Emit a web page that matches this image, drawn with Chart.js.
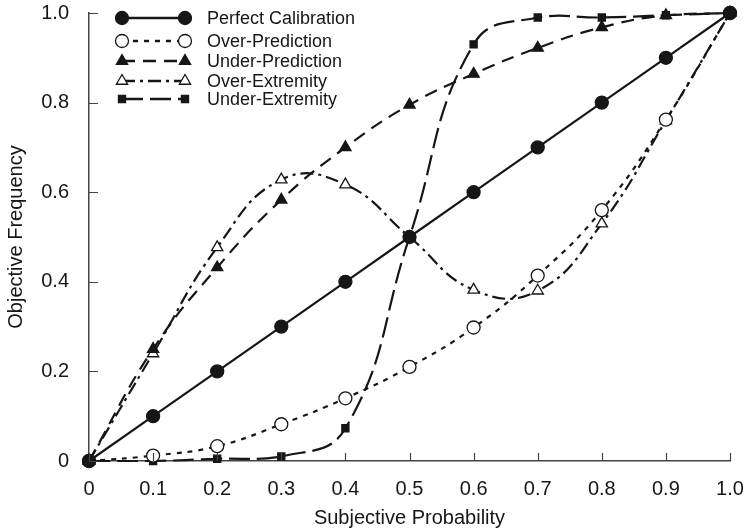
<!DOCTYPE html>
<html>
<head>
<meta charset="utf-8">
<script src="https://cdn.jsdelivr.net/npm/chart.js@4"></script>
<style>
html,body{margin:0;padding:0;background:#fff;}
#wrap{width:747px;height:531px;position:relative;}
</style>
</head>
<body>
<div id="wrap"><canvas id="c" width="747" height="531"></canvas></div>
<script>
const probabilities = [0, 0.1, 0.2, 0.3, 0.4, 0.5, 0.6, 0.7, 0.8, 0.9, 1.0];
const seriesNames = ["Perfect Calibration", "Over-Prediction", "Under-Prediction", "Over-Extremity", "Under-Extremity"];
const perfectCalibration = [0, 0.1, 0.2, 0.3, 0.4, 0.5, 0.6, 0.7, 0.8, 0.9, 1.0];
const overPrediction = [0, 0.012, 0.033, 0.082, 0.14, 0.21, 0.298, 0.414, 0.56, 0.762, 1.0];
const underPrediction = [0, 0.25, 0.432, 0.583, 0.70, 0.795, 0.864, 0.922, 0.968, 0.995, 1.0];
const overExtremity = [0, 0.24, 0.477, 0.628, 0.617, 0.5, 0.382, 0.38, 0.53, 0.76, 1.0];
const underExtremity = [0, 0.0, 0.005, 0.01, 0.073, 0.5, 0.93, 0.99, 0.99, 0.995, 1.0];
const xTicks = [0, 0.1, 0.2, 0.3, 0.4, 0.5, 0.6, 0.7, 0.8, 0.9, 1.0];
const yTicks = [0, 0.2, 0.4, 0.6, 0.8, 1.0];

const INK = '#161616';
const FONT = '"Liberation Sans", Arial, Helvetica, sans-serif';

function pts(arr){ return probabilities.map((p,i)=>({x:p,y:arr[i]})); }

const styles = [
  {data: perfectCalibration, dash: [], pointStyle:'circle', radius:6.5, fill:INK},
  {data: overPrediction, dash: [5,6], pointStyle:'circle', radius:6.5, fill:'#fff'},
  {data: underPrediction, dash: [13,8], pointStyle:'triangle', radius:6.5, fill:INK},
  {data: overExtremity, dash: [13,5,3,5], pointStyle:'triangle', radius:6.5, fill:'#fff'},
  {data: underExtremity, dash: [21,7], pointStyle:'rect', radius:5, fill:INK}
];

const datasets = styles.map((s,i)=>({
  label: seriesNames[i],
  data: pts(s.data),
  borderColor: INK,
  borderWidth: 2.2,
  borderDash: s.dash,
  tension: i===0 ? 0 : 0.45,
  pointStyle: s.pointStyle,
  pointRadius: s.radius,
  pointBackgroundColor: s.fill,
  pointBorderColor: INK,
  pointBorderWidth: 1.3,
  clip: false,
  fill: false
}));

const inwardTicks = {
  id: 'inwardTicks',
  afterDatasetsDraw(chart){
    const ctx = chart.ctx;
    const xs = chart.scales.x, ys = chart.scales.y;
    ctx.save();
    ctx.strokeStyle = '#444';
    ctx.lineWidth = 1.2;
    ctx.beginPath();
    xTicks.forEach(v=>{
      const px = Math.round(xs.getPixelForValue(v))+0.5;
      ctx.moveTo(px, ys.bottom); ctx.lineTo(px, ys.bottom-8);
    });
    yTicks.forEach(v=>{
      const py = Math.round(ys.getPixelForValue(v))+0.5;
      ctx.moveTo(xs.left, py); ctx.lineTo(xs.left+9, py);
    });
    ctx.stroke();
    ctx.restore();
  }
};

const legendRows = [18, 41, 61, 81, 99];
const customLegend = {
  id: 'customLegend',
  afterDraw(chart){
    const ctx = chart.ctx;
    ctx.save();
    chart.data.datasets.forEach((ds,i)=>{
      const y = legendRows[i];
      const x1 = 122, x2 = 185;
      ctx.strokeStyle = INK;
      ctx.lineWidth = 2.4;
      ctx.setLineDash(ds.borderDash);
      ctx.beginPath();
      ctx.moveTo(x1, y); ctx.lineTo(x2, y);
      ctx.stroke();
      ctx.setLineDash([]);
      const opts = {pointStyle: ds.pointStyle, radius: ds.pointRadius, rotation: 0, borderWidth: ds.pointBorderWidth};
      [x1, x2].forEach(px=>{
        ctx.fillStyle = ds.pointBackgroundColor;
        ctx.strokeStyle = ds.pointBorderColor;
        ctx.lineWidth = ds.pointBorderWidth;
        Chart.helpers.drawPoint(ctx, opts, px, y);
      });
      ctx.fillStyle = INK;
      ctx.font = '18px ' + FONT;
      ctx.textBaseline = 'middle';
      ctx.textAlign = 'left';
      ctx.fillText(ds.label, 207, y+1);
    });
    ctx.restore();
  }
};

new Chart(document.getElementById('c'), {
  type: 'line',
  data: { datasets },
  options: {
    responsive: false,
    animation: false,
    devicePixelRatio: 1,
    layout: { padding: { top: 13, right: 17, left: 0, bottom: 0 } },
    plugins: { legend: { display: false }, tooltip: { enabled: false } },
    scales: {
      x: {
        type: 'linear', min: 0, max: 1,
        afterFit(s){ s.height = 70; s.paddingLeft = 0; s.paddingRight = 0; },
        afterBuildTicks(s){ s.ticks = xTicks.map(v=>({value:v})); },
        grid: { display: true, drawOnChartArea: false, drawTicks: false, color: '#444' },
        border: { display: true, color: '#444', width: 1.5 },
        ticks: {
          padding: 16, color: INK, font: { family: FONT, size: 20 },
          maxRotation: 0, autoSkip: false,
          callback: v => v === 0 ? '0' : Number(v).toFixed(1)
        },
        title: { display: true, text: 'Subjective Probability', color: INK, font: { family: FONT, size: 20 }, padding: { top: 0, bottom: 1 } }
      },
      y: {
        type: 'linear', min: 0, max: 1,
        afterFit(s){ s.width = 89; s.paddingTop = 0; s.paddingBottom = 0; },
        afterBuildTicks(s){ s.ticks = yTicks.map(v=>({value:v})); },
        grid: { display: true, drawOnChartArea: false, drawTicks: false, color: '#444' },
        border: { display: true, color: '#444', width: 1.5 },
        ticks: {
          padding: 20, color: INK, font: { family: FONT, size: 20 },
          autoSkip: false,
          callback: v => v === 0 ? '0' : Number(v).toFixed(1)
        },
        title: { display: true, text: 'Objective Frequency', color: INK, font: { family: FONT, size: 20 }, padding: { top: 4, bottom: 0 } }
      }
    }
  },
  plugins: [inwardTicks, customLegend]
});
</script>
</body>
</html>
